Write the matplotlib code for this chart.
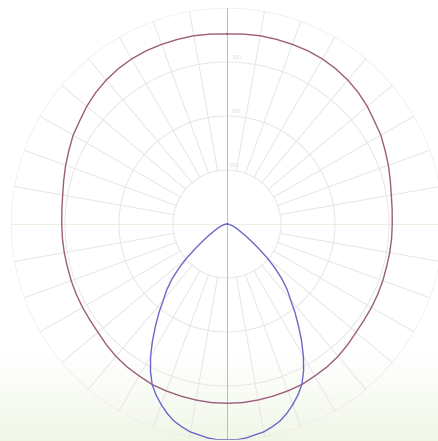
import numpy as np
import matplotlib
matplotlib.use("Agg")
import matplotlib.pyplot as plt

# angles measured from nadir (downwards), degrees
red_angles = list(range(0, 181, 5))
red_values = [332, 332, 331, 330, 329, 328, 325, 323, 320, 316, 312, 310, 309,
              308, 307, 306, 306, 306, 306, 307, 309, 313, 318, 323, 329, 333,
              339, 344, 348, 351, 353, 354, 354, 354, 354, 353, 352]

blue_angles = [0, 2.5, 5, 7.5, 10, 12.5, 15, 17.5, 20, 22.5, 25, 27.5, 30, 32.5,
               35, 37.5, 40, 42.5, 45, 47.5, 50, 52.5, 55, 57.5, 60, 65, 70, 75,
               80, 85, 90]
blue_values = [400, 400, 398, 394, 391, 385, 378, 368, 356, 343, 328, 307, 283, 257,
               231, 207, 183, 165, 144, 120, 96, 72, 54, 41, 31, 20, 13, 7,
               4, 2, 0]

ring_values = [100, 200, 300, 400]
ring_labels = ["100", "200", "300"]


def mirror(angles, values):
    a = np.deg2rad(np.array(angles, dtype=float))
    v = np.array(values, dtype=float)
    full_a = np.concatenate([-a[::-1], a[1:]])
    full_v = np.concatenate([v[::-1], v[1:]])
    return full_a, full_v


fig = plt.figure(figsize=(4.38, 4.41), dpi=100)
fig.patch.set_facecolor("white")

# background gradient (white -> pale green towards the bottom)
bg = fig.add_axes([0, 0, 1, 1], zorder=0)
grad = np.ones((441, 1, 3))
top = np.array([1.0, 1.0, 1.0])
bot = np.array([0.945, 0.968, 0.905])
ys = np.arange(441)
t = np.clip((ys - 355) / 86.0, 0, 1)[:, None]
grad[:, 0, :] = top * (1 - t) + bot * t
bg.imshow(grad, aspect="auto", extent=[0, 1, 0, 1])
bg.axis("off")

ax = fig.add_axes([11 / 438, 1 / 441, 432 / 438, 432 / 441], projection="polar", zorder=1)
ax.set_facecolor("none")
ax.set_theta_zero_location("S")
ax.set_ylim(0, 400)
ax.grid(False)
ax.set_xticks([])
ax.set_yticks([])
ax.spines["polar"].set_visible(False)

grid_col = "#e6e6e6"
th = np.linspace(0, 2 * np.pi, 361)
for rv in ring_values:
    ax.plot(th, np.full_like(th, rv), color=grid_col, lw=0.7, zorder=1)
for deg in range(0, 360, 10):
    a = np.deg2rad(deg)
    ax.plot([a, a], [ring_values[0], ring_values[-1]], color=grid_col, lw=0.7, zorder=1)

# horizontal and vertical axes
ax.plot([np.pi / 2, np.pi / 2], [0, 400], color="#eeeee0", lw=0.7, zorder=1)
ax.plot([-np.pi / 2, -np.pi / 2], [0, 400], color="#eeeee0", lw=0.7, zorder=1)
ax.plot([0, 0], [0, 400], color="#b4b4b4", lw=0.6, zorder=2)
ax.plot([np.pi, np.pi], [0, 400], color="#b4b4b4", lw=0.6, zorder=2)

for rv, lab in zip(ring_values[:3], ring_labels):
    ax.text(np.pi - 0.03, rv + 8, lab, color="#dcdcdc", fontsize=4, ha="left", va="center", zorder=2)

ra, rv_ = mirror(red_angles, red_values)
ax.plot(ra, rv_, color="#9c5c7c", lw=1.0, zorder=3)

ba, bv = mirror(blue_angles, blue_values)
ax.plot(ba, bv, color="#6a68c6", lw=1.0, zorder=4)

fig.savefig("out.png", dpi=100)
